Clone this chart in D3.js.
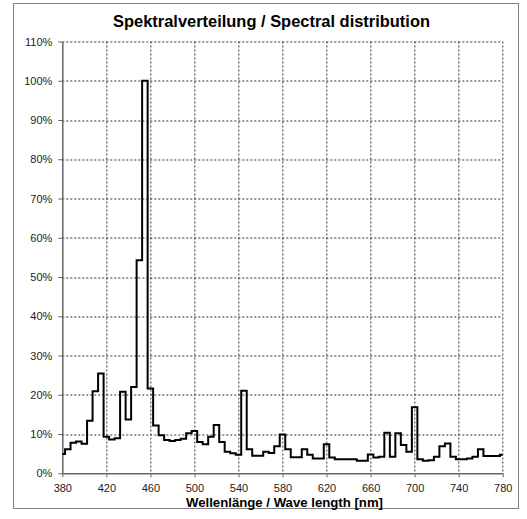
<!DOCTYPE html>
<html>
<head>
<meta charset="utf-8">
<script src="https://d3js.org/d3.v7.min.js"></script>
<style>
  body { margin: 0; background: #fff; }
  text { font-family: "Liberation Sans", Arial, sans-serif; }
</style>
</head>
<body>
<div id="chart"></div>
<script>
// Data: relative intensity (%) every 5 nm
var wavelengths = d3.range(380, 781, 5);
var intensity = [
  4.9, 6.1, 7.8, 8.1, 7.5, 13.4, 20.9, 25.4, 9.3, 8.6,
  8.9, 20.8, 13.7, 22.0, 54.3, 100, 21.6, 12.2, 9.7, 8.5,
  8.2, 8.5, 8.8, 10.2, 10.8, 8.0, 7.4, 9.3, 12.3, 8.0,
  5.5, 5.1, 4.7, 21.0, 6.1, 4.5, 4.5, 5.5, 5.2, 6.9,
  9.9, 6.1, 4.1, 4.1, 6.1, 4.7, 3.8, 3.8, 7.4, 4.0,
  3.6, 3.6, 3.6, 3.6, 3.2, 3.2, 4.8, 4.0, 4.2, 10.3,
  4.2, 10.2, 7.2, 5.5, 16.8, 3.6, 3.2, 3.3, 4.2, 6.9,
  7.6, 4.2, 3.6, 3.6, 3.8, 4.2, 6.1, 4.4, 4.4, 4.4,
  4.7
];
var xTicks = [380, 420, 460, 500, 540, 580, 620, 660, 700, 740, 780];
var yTicks = [0, 10, 20, 30, 40, 50, 60, 70, 80, 90, 100, 110];

var svgWidth = 527;
var svgHeight = 519;

// plot area
var margin = { top: 41.5, right: 24.3, bottom: 45.7, left: 62.3 };
var width = svgWidth - margin.left - margin.right;
var height = svgHeight - margin.top - margin.bottom;

var svg = d3.select("#chart")
  .append("svg")
  .attr("width", svgWidth)
  .attr("height", svgHeight);

// outer frame
svg.append("rect")
  .attr("x", 13.5)
  .attr("y", 3.5)
  .attr("width", 505)
  .attr("height", 505)
  .attr("fill", "none")
  .attr("stroke", "#808080")
  .attr("stroke-width", 1);

var chartGroup = svg.append("g")
  .attr("transform", `translate(${margin.left}, ${margin.top})`);

// scales
var xScale = d3.scaleLinear().domain([380, 780]).range([0, width]);
var yScale = d3.scaleLinear().domain([0, 110]).range([height, 0]);

// dashed grid
chartGroup.append("g")
  .selectAll("line.h")
  .data(yTicks.slice(1))
  .enter()
  .append("line")
  .attr("x1", 0)
  .attr("x2", width)
  .attr("y1", d => Math.round(yScale(d)) + 0.5)
  .attr("y2", d => Math.round(yScale(d)) + 0.5)
  .attr("stroke", "#333")
  .attr("stroke-width", 1)
  .attr("stroke-dasharray", "2,2");

chartGroup.append("g")
  .selectAll("line.v")
  .data(xTicks.slice(1))
  .enter()
  .append("line")
  .attr("x1", d => Math.round(xScale(d)) + 0.5)
  .attr("x2", d => Math.round(xScale(d)) + 0.5)
  .attr("y1", 0)
  .attr("y2", height)
  .attr("stroke", "#333")
  .attr("stroke-width", 1)
  .attr("stroke-dasharray", "2,2");

// axes
var bottomAxis = d3.axisBottom(xScale)
  .tickValues(xTicks)
  .tickSize(4)
  .tickSizeOuter(0)
  .tickPadding(7);
var leftAxis = d3.axisLeft(yScale)
  .tickValues(yTicks)
  .tickSize(4)
  .tickSizeOuter(0)
  .tickPadding(6)
  .tickFormat(d => d + "%");

var xAxisG = chartGroup.append("g")
  .attr("transform", `translate(0, ${height})`)
  .call(bottomAxis);
var yAxisG = chartGroup.append("g")
  .call(leftAxis);

[xAxisG, yAxisG].forEach(function (g) {
  g.select(".domain").attr("stroke", "#666").attr("stroke-width", 1.5);
  g.selectAll(".tick line").attr("stroke", "#666");
  g.selectAll(".tick text")
    .attr("font-family", "'Liberation Sans', Arial, sans-serif")
    .attr("font-size", "11px")
    .attr("fill", "#222");
});

// spectrum step line
var line = d3.line()
  .x((d, i) => xScale(wavelengths[i]))
  .y(d => yScale(d))
  .curve(d3.curveStep);

chartGroup.append("path")
  .datum(intensity)
  .attr("d", line)
  .attr("fill", "none")
  .attr("stroke", "#000")
  .attr("stroke-width", 2)
  .attr("stroke-linejoin", "miter");

// title (squeezed to the reference width)
svg.append("text")
  .attr("x", 113)
  .attr("y", 27)
  .attr("font-size", "17px")
  .attr("font-weight", "bold")
  .attr("textLength", 317)
  .attr("lengthAdjust", "spacingAndGlyphs")
  .text("Spektralverteilung / Spectral distribution");

// x-axis label
svg.append("text")
  .attr("x", 186)
  .attr("y", 507)
  .attr("font-size", "12.5px")
  .attr("font-weight", "bold")
  .attr("textLength", 197)
  .attr("lengthAdjust", "spacingAndGlyphs")
  .text("Wellenlänge / Wave length [nm]");
</script>
</body>
</html>
